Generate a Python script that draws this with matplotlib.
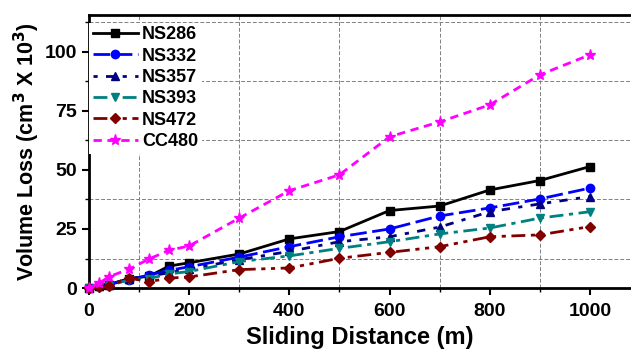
import numpy as np
import matplotlib
matplotlib.use("Agg")
import matplotlib.pyplot as plt
from matplotlib.ticker import FixedLocator

plt.rcParams['font.family'] = ['Liberation Sans', 'DejaVu Sans']
plt.rcParams['font.weight'] = 'bold'

# sliding distance (m)
distance = [0, 20, 40, 80, 120, 160, 200, 300, 400, 500, 600, 700, 800, 900, 1000]

# volume loss (cm^3 x 10^3)
ns286 = [0, 1.0, 1.5, 4.0, 5.0, 9.3, 10.7, 14.4, 20.8, 23.9, 32.8, 34.7, 41.5, 45.5, 51.4]
ns332 = [0, 1.0, 1.5, 3.5, 5.5, 7.5, 9.0, 13.1, 17.5, 21.7, 25.0, 30.5, 33.9, 37.7, 42.3]
ns357 = [0, 1.0, 1.5, 4.0, 5.0, 6.5, 8.0, 12.0, 15.5, 19.6, 21.7, 25.8, 32.3, 35.6, 38.7]
ns393 = [0, 0.5, 1.0, 3.5, 4.0, 6.0, 7.0, 11.2, 13.6, 16.8, 19.6, 22.9, 25.4, 29.6, 32.3]
ns472 = [0, 0.5, 1.0, 4.2, 2.7, 4.2, 4.7, 7.8, 8.5, 12.6, 15.1, 17.5, 21.7, 22.5, 26.0]
cc480 = [0, 2.0, 4.8, 8.0, 12.3, 16.0, 17.8, 29.6, 41.2, 47.9, 64.0, 70.3, 77.5, 90.2, 98.7]

series = [
    ("NS286", ns286, "black", "-", "s"),
    ("NS332", ns332, "#0000ff", (0, (6, 2)), "o"),
    ("NS357", ns357, "#000080", (0, (1.5, 3, 3, 3)), "^"),
    ("NS393", ns393, "#008080", (0, (5, 2, 1.5, 2)), "v"),
    ("NS472", ns472, "#800000", (0, (5, 2, 1.5, 2, 1.5, 2)), "D"),
    ("CC480", cc480, "#ff00ff", (0, (3, 2)), "*"),
]

fig = plt.figure(figsize=(6.31, 3.5), dpi=100)
ax = fig.add_axes([0.141, 0.177, 0.859, 0.78])

for name, vals, col, ls, mk in series:
    ms = 8 if mk == "*" else 6
    if mk == "D":
        ms = 5.5
    ax.plot(distance, vals, color=col, linestyle=ls, linewidth=2,
            marker=mk, markersize=ms, label=name, clip_on=False, zorder=3)

ax.set_xlim(0, 1082)
ax.set_ylim(0, 115.5)
ax.xaxis.set_major_locator(FixedLocator([0, 200, 400, 600, 800, 1000]))
ax.xaxis.set_minor_locator(FixedLocator([100, 300, 500, 700, 900]))
ax.yaxis.set_major_locator(FixedLocator([0, 25, 50, 75, 100]))
ax.yaxis.set_minor_locator(FixedLocator([12.5, 37.5, 62.5, 87.5, 112.5]))
ax.grid(which='minor', linestyle=(0, (4, 2)), color='#808080', linewidth=0.7)
ax.grid(which='major', visible=False)

ax.tick_params(which='major', direction='out', length=5, width=1.5, labelsize=14)
ax.tick_params(which='minor', direction='out', length=3, width=1)
ax.tick_params(axis='x', pad=6)
for s in ['left', 'bottom', 'top']:
    ax.spines[s].set_linewidth(2)
ax.spines['right'].set_visible(False)

ax.set_xlabel("Sliding Distance (m)", fontsize=17, fontweight='bold', labelpad=4)
ax.set_ylabel(r"Volume Loss (cm$^3$ X 10$^3$)", fontsize=15.5,
              fontweight='bold', labelpad=2)

leg = ax.legend(loc='upper left', bbox_to_anchor=(0.0, 0.972), fontsize=13,
                frameon=True, fancybox=False, edgecolor='none', framealpha=1,
                handlelength=2.5, handletextpad=0.25, labelspacing=0.24,
                borderpad=0.2, borderaxespad=0.0)
for t in leg.get_texts():
    t.set_fontweight('bold')

fig.savefig("out.png", dpi=100)
